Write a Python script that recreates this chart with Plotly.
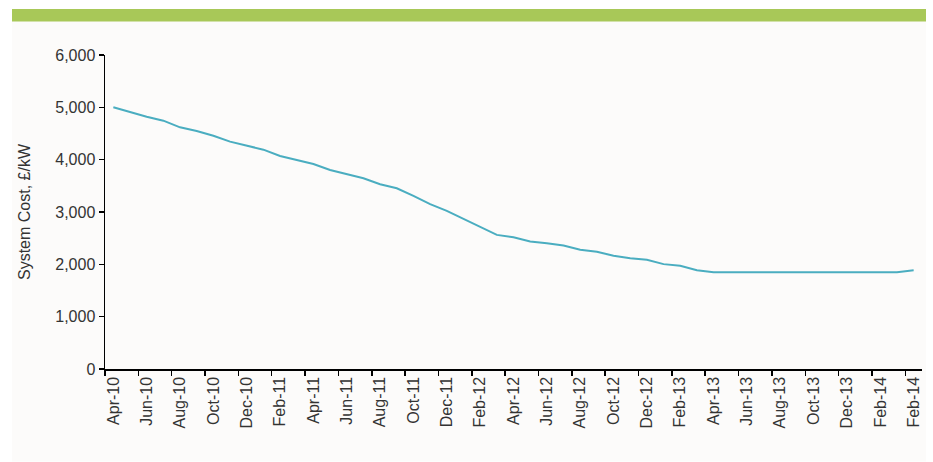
import plotly.graph_objects as go

# Category labels (monthly), as shown on the reference axis
months = [
    "Apr-10", "May-10", "Jun-10", "Jul-10", "Aug-10", "Sep-10", "Oct-10", "Nov-10",
    "Dec-10", "Jan-11", "Feb-11", "Mar-11", "Apr-11", "May-11", "Jun-11", "Jul-11",
    "Aug-11", "Sep-11", "Oct-11", "Nov-11", "Dec-11", "Jan-12", "Feb-12", "Mar-12",
    "Apr-12", "May-12", "Jun-12", "Jul-12", "Aug-12", "Sep-12", "Oct-12", "Nov-12",
    "Dec-12", "Jan-13", "Feb-13", "Mar-13", "Apr-13", "May-13", "Jun-13", "Jul-13",
    "Aug-13", "Sep-13", "Oct-13", "Nov-13", "Dec-13", "Jan-14", "Feb-14", "Mar-14",
    "Feb-14",
]

# System cost, £/kW
system_cost = [
    5000, 4905, 4820, 4745, 4618, 4548, 4458, 4344, 4267, 4191,
    4071, 3994, 3918, 3803, 3727, 3645, 3530, 3454, 3307, 3149,
    3021, 2868, 2710, 2563, 2519, 2435, 2405, 2359, 2277, 2239,
    2165, 2118, 2086, 2004, 1971, 1889, 1851, 1850, 1850, 1850,
    1850, 1850, 1850, 1850, 1850, 1850, 1850, 1850, 1885,
]

y_ticks = [0, 1000, 2000, 3000, 4000, 5000, 6000]

idx = list(range(len(months)))
label_idx = idx[::2]
label_txt = [months[i] for i in label_idx]
boundary_ticks = [i - 0.5 for i in label_idx]

fig = go.Figure(
    go.Scatter(
        x=idx,
        y=system_cost,
        mode="lines",
        line=dict(color="#4aadc0", width=2),
        hoverinfo="skip",
    )
)

# plot area pixel geometry
L, R, T, B = 105, 922, 55, 369.3
W, H = R - L, B - T


def px(x):
    return (x - L) / W


def py(y):
    return (B - y) / H


font_family = "Liberation Sans, Arial, sans-serif"
FS = 16

fig.update_layout(
    width=933,
    height=462,
    margin=dict(l=L, r=933 - R, t=T, b=462 - B, pad=0),
    paper_bgcolor="white",
    plot_bgcolor="rgba(0,0,0,0)",
    showlegend=False,
    font=dict(family=font_family, size=FS, color="#333333"),
    shapes=[
        dict(type="rect", xref="paper", yref="paper", layer="below",
             x0=px(12), x1=px(926), y0=py(462), y1=py(9),
             fillcolor="#fcfbfa", line=dict(width=0)),
        dict(type="rect", xref="paper", yref="paper", layer="below",
             x0=px(12), x1=px(926), y0=py(21.5), y1=py(9),
             fillcolor="#a8c858", line=dict(width=0)),
    ],
    xaxis=dict(
        range=[-0.5, len(months) - 0.5],
        tickmode="array",
        tickvals=label_idx,
        ticktext=label_txt,
        ticks="",
        tickangle=-90,
        showline=True,
        linecolor="black",
        linewidth=1.5,
        showgrid=False,
        zeroline=False,
        tickfont=dict(size=FS, color="#333333"),
        minor=dict(
            tickmode="array",
            tickvals=boundary_ticks,
            ticks="outside",
            ticklen=5,
            tickwidth=1.5,
            tickcolor="black",
            showgrid=False,
        ),
    ),
    yaxis=dict(
        range=[0, 6000],
        tickmode="array",
        tickvals=y_ticks,
        ticktext=[f"{v:,}" for v in y_ticks],
        ticks="outside",
        ticklen=5,
        tickwidth=1.5,
        tickcolor="black",
        showline=True,
        linecolor="black",
        linewidth=1.5,
        showgrid=False,
        zeroline=False,
        tickfont=dict(size=FS, color="#333333"),
        title=dict(text="System Cost, £/kW", font=dict(size=FS, color="#333333"), standoff=20),
    ),
)

fig.write_html(
    "out.html",
    config={"displayModeBar": False, "staticPlot": True},
    post_script="document.body.style.margin='0';document.body.style.padding='0';",
)
